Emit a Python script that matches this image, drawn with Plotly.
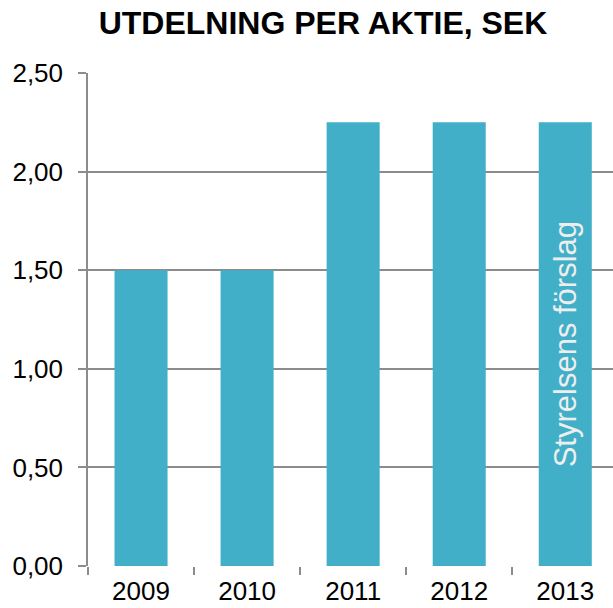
import plotly.graph_objects as go

years = ["2009", "2010", "2011", "2012", "2013"]
values = [1.50, 1.50, 2.25, 2.25, 2.25]
bar_labels = ["", "", "", "", "Styrelsens förslag"]
y_ticks = [0, 0.5, 1.0, 1.5, 2.0, 2.5]

fig = go.Figure()
fig.add_trace(go.Bar(
    x=years, y=values,
    marker=dict(color="#41AFC8", line=dict(width=0)),
    text=bar_labels, textposition="inside", textangle=-90,
    insidetextanchor="middle",
    insidetextfont=dict(color="#EEEEEE", size=31, family="Liberation Sans, Arial"),
    hoverinfo="skip",
))

grid = "#8C8C8C"
fig.update_layout(
    width=613, height=608,
    margin=dict(l=88, r=0, t=73, b=42, autoexpand=False),
    paper_bgcolor="white", plot_bgcolor="white",
    separators=", ",
    bargap=0.5,
    showlegend=False,
    font=dict(family="Liberation Sans, Arial", color="black", size=26),
    title=dict(text="<b>UTDELNING PER AKTIE, SEK</b>", x=(323 - 88) / 525, xref="paper",
               xanchor="center", y=1 - 23 / 608, yanchor="middle",
               font=dict(size=32, family="Liberation Sans, Arial", color="black")),
    xaxis=dict(
        type="category", range=[-0.5, 4.45],
        showline=False, showgrid=False,
        ticks="outside", tickson="boundaries", ticklen=8, tickcolor=grid, tickwidth=1.5,
        ticklabelstandoff=7,
        tickfont=dict(size=26), zeroline=False,
    ),
    yaxis=dict(
        range=[0, 2.5], tickvals=y_ticks, tickformat=".2f",
        showgrid=True, gridcolor=grid, gridwidth=1.5,
        showline=True, linecolor=grid, linewidth=1.5,
        ticks="outside", ticklen=8, tickcolor=grid, tickwidth=1.5,
        ticklabelstandoff=10,
        tickfont=dict(size=26), zeroline=False,
    ),
)
fig.write_html("out.html", config={"displayModeBar": False},
               post_script="document.body.style.margin='0';")
